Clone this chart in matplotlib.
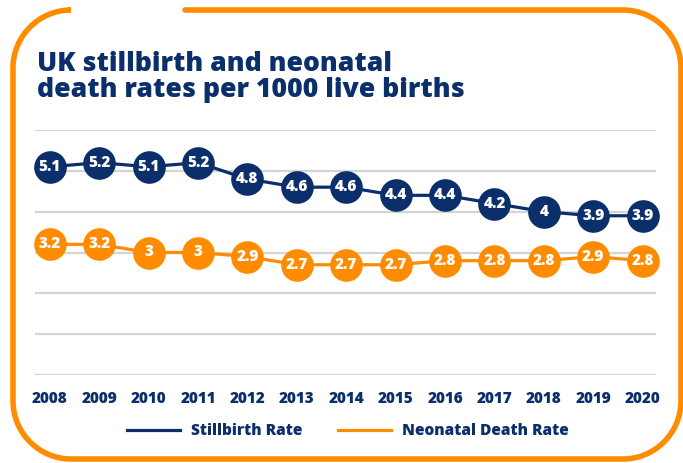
import matplotlib.pyplot as plt
from matplotlib.path import Path
from matplotlib.patches import PathPatch
from matplotlib.lines import Line2D

# Data
years = [2008, 2009, 2010, 2011, 2012, 2013, 2014, 2015, 2016, 2017, 2018, 2019, 2020]
stillbirth = [5.1, 5.2, 5.1, 5.2, 4.8, 4.6, 4.6, 4.4, 4.4, 4.2, 4.0, 3.9, 3.9]
neonatal = [3.2, 3.2, 3.0, 3.0, 2.9, 2.7, 2.7, 2.7, 2.8, 2.8, 2.8, 2.9, 2.8]

NAVY = '#0a2f6b'
ORANGE = '#ff8c00'
plt.rcParams['font.family'] = ['Open Sans', 'DejaVu Sans']

W, H = 683, 463
fig = plt.figure(figsize=(W / 100, H / 100), dpi=100)

# Orange rounded frame with a gap at the top (pixel coords -> figure fraction)
def px(x, y):
    return (x / W, 1 - y / H)

L, R, T, B, r = 13, 681, 10, 459, 58
k = 0.55 * r
pts = [
    (185, T), (R - r, T), (R - r + k, T), (R, T + r - k), (R, T + r),
    (R, B - r), (R, B - r + k), (R - r + k, B), (R - r, B),
    (L + r, B), (L + r - k, B), (L, B - r + k), (L, B - r),
    (L, T + r), (L, T + r - k), (L + r - k, T), (L + r, T), (70, T),
]
codes = [Path.MOVETO, Path.LINETO, Path.CURVE4, Path.CURVE4, Path.CURVE4,
         Path.LINETO, Path.CURVE4, Path.CURVE4, Path.CURVE4,
         Path.LINETO, Path.CURVE4, Path.CURVE4, Path.CURVE4,
         Path.LINETO, Path.CURVE4, Path.CURVE4, Path.CURVE4, Path.LINETO]
frame = PathPatch(Path([px(*p) for p in pts], codes), transform=fig.transFigure,
                  fill=False, edgecolor=ORANGE, linewidth=4, capstyle='round')
fig.patches.append(frame)

fig.text(37 / W, 1 - 51 / H, 'UK stillbirth and neonatal\ndeath rates per 1000 live births',
         fontsize=19.2, fontweight=800, color=NAVY, va='top', ha='left',
         linespacing=0.98)

ax = fig.add_axes([35 / W, 1 - 375 / H, (656 - 35) / W, (375 - 130) / H])
ax.set_xlim(2007.7, 2020.27)
ax.set_ylim(0, 6)
ax.set_yticks(range(0, 7))
ax.yaxis.grid(True, color='#d4d4d4', linewidth=1.6)
ax.set_axisbelow(True)
for s in ax.spines.values():
    s.set_visible(False)
ax.tick_params(left=False, labelleft=False, bottom=False, pad=8)
ax.set_xticks(years)
ax.set_xticklabels([str(y) for y in years], fontsize=11, fontweight=800, color=NAVY)

for vals, col in [(stillbirth, NAVY), (neonatal, ORANGE)]:
    ax.plot(years, vals, color=col, linewidth=2.3, marker='o', markersize=23.5,
            markeredgewidth=0, clip_on=False)
    for x, v in zip(years, vals):
        ax.text(x, v, f'{v:g}', ha='center', va='center', color='white',
                fontsize=11, fontweight=800)

handles = [Line2D([], [], color=NAVY, linewidth=2.3), Line2D([], [], color=ORANGE, linewidth=2.3)]
labels = ['Stillbirth Rate', 'Neonatal Death Rate']
leg = fig.legend(handles, labels, loc='center', bbox_to_anchor=(348 / W, 1 - 431 / H),
                 ncol=2, frameon=False, handlelength=3.4, columnspacing=2.3,
                 handletextpad=0.7, prop={'size': 11.2, 'weight': 800})
for t in leg.get_texts():
    t.set_color(NAVY)

fig.savefig('out.png', dpi=100)
